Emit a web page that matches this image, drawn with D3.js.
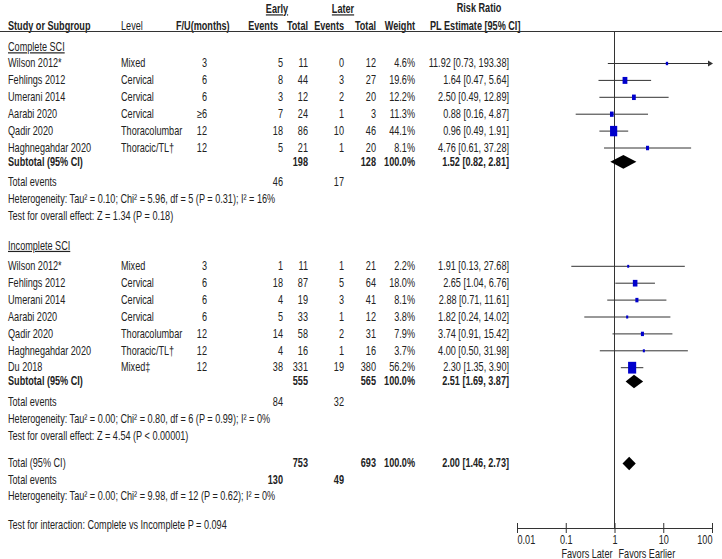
<!DOCTYPE html>
<html>
<head>
<meta charset="utf-8">
<script src="https://cdn.jsdelivr.net/npm/d3@7"></script>
<style>
  html, body { margin: 0; padding: 0; background: #fff; }
  svg text { font-family: 'Liberation Sans', Arial, sans-serif; font-size: 12px; fill: #222; }
  .b { font-weight: bold; }
</style>
</head>
<body>
<svg id="chart" width="722" height="559"></svg>
<script>
// ---------------- DATA ----------------
const completeStudies = ["Wilson 2012*", "Fehlings 2012", "Umerani 2014", "Aarabi 2020", "Qadir 2020", "Haghnegahdar 2020"];
const completeLevels = ["Mixed", "Cervical", "Cervical", "Cervical", "Thoracolumbar", "Thoracic/TL†"];
const completeFU = ["3", "6", "6", "≥6", "12", "12"];
const completeEarlyEvents = [5, 8, 3, 7, 18, 5];
const completeEarlyTotal = [11, 44, 12, 24, 86, 21];
const completeLaterEvents = [0, 3, 2, 1, 10, 1];
const completeLaterTotal = [12, 27, 20, 3, 46, 20];
const completeWeight = [4.6, 19.6, 12.2, 11.3, 44.1, 8.1];
const completeRR = [11.92, 1.64, 2.50, 0.88, 0.96, 4.76];
const completeLo = [0.73, 0.47, 0.49, 0.16, 0.49, 0.61];
const completeHi = [193.38, 5.64, 12.89, 4.87, 1.91, 37.28];

const incompleteStudies = ["Wilson 2012*", "Fehlings 2012", "Umerani 2014", "Aarabi 2020", "Qadir 2020", "Haghnegahdar 2020", "Du 2018"];
const incompleteLevels = ["Mixed", "Cervical", "Cervical", "Cervical", "Thoracolumbar", "Thoracic/TL†", "Mixed‡"];
const incompleteFU = ["3", "6", "6", "6", "12", "12", "12"];
const incompleteEarlyEvents = [1, 18, 4, 5, 14, 4, 38];
const incompleteEarlyTotal = [11, 87, 19, 33, 58, 16, 331];
const incompleteLaterEvents = [1, 5, 3, 1, 2, 1, 19];
const incompleteLaterTotal = [21, 64, 41, 12, 31, 16, 380];
const incompleteWeight = [2.2, 18.0, 8.1, 3.8, 7.9, 3.7, 56.2];
const incompleteRR = [1.91, 2.65, 2.88, 1.82, 3.74, 4.00, 2.30];
const incompleteLo = [0.13, 1.04, 0.71, 0.24, 0.91, 0.50, 1.35];
const incompleteHi = [27.68, 6.76, 11.61, 14.02, 15.42, 31.98, 3.90];

// subtotals: [earlyTotal, laterTotal, RR, lo, hi, earlyEvents, laterEvents]
const completeSubtotal = [198, 128, 1.52, 0.82, 2.81, 46, 17];
const incompleteSubtotal = [555, 565, 2.51, 1.69, 3.87, 84, 32];
const overallTotal = [753, 693, 2.00, 1.46, 2.73, 130, 49];

const completeHetero = "Heterogeneity: Tau² = 0.10; Chi² = 5.96, df = 5 (P = 0.31); I² = 16%";
const completeTest = "Test for overall effect: Z = 1.34 (P = 0.18)";
const incompleteHetero = "Heterogeneity: Tau² = 0.00; Chi² = 0.80, df = 6 (P = 0.99); I² = 0%";
const incompleteTest = "Test for overall effect: Z = 4.54 (P < 0.00001)";
const overallHetero = "Heterogeneity: Tau² = 0.00; Chi² = 9.98, df = 12 (P = 0.62); I² = 0%";
const interactionTest = "Test for interaction: Complete vs Incomplete P = 0.094";

const axisTicks = [0.01, 0.1, 1, 10, 100];
const axisTickLabels = ["0.01", "0.1", "1", "10", "100"];
const favorsLeft = "Favors Later";
const favorsRight = "Favors Earlier";

// ---------------- LAYOUT ----------------
const svg = d3.select("#chart");
const x = d3.scaleLog().domain([0.01, 100]).range([517, 712]);
const y = d3.scaleLinear().domain([0, 1]).range([63, 79.9]); // row slot -> pixel
const SX = 0.76; // horizontal condensation (narrow face)

const col = { study: 8, level: 121, fu: 207, eEv: 283, eTot: 308, lEv: 344, lTot: 376, wt: 415, est: 509 };
const axisY = 528;

function txt(xp, yp, s, opts = {}) {
  const t = svg.append("text").attr("transform", `translate(${xp},${yp}) scale(${SX},1)`)
    .attr("dy", "0.35em").text(s);
  if (opts.anchor) t.attr("text-anchor", opts.anchor);
  if (opts.bold) t.classed("b", true);
  if (opts.underline) t.style("text-decoration", "underline");
  return t;
}
const fmt2 = d3.format(".2f");
const est = (r, l, h) => `${fmt2(r)} [${fmt2(l)}, ${fmt2(h)}]`;
const pct = w => d3.format(".1f")(w) + "%";

// Header
txt(277, 9, "Early", { anchor: "middle", bold: true, underline: true });
txt(343, 9, "Later", { anchor: "middle", bold: true, underline: true });
txt(479, 8, "Risk Ratio", { anchor: "middle", bold: true });
txt(col.study, 26, "Study or Subgroup", { bold: true });
txt(col.level, 26, "Level");
txt(176, 26, "F/U(months)", { bold: true });
txt(278, 26, "Events", { anchor: "end", bold: true });
txt(col.eTot, 26, "Total", { anchor: "end", bold: true });
txt(col.lEv, 26, "Events", { anchor: "end", bold: true });
txt(col.lTot, 26, "Total", { anchor: "end", bold: true });
txt(col.wt, 26, "Weight", { anchor: "end", bold: true });
txt(430, 26, "PL Estimate [95% CI]", { bold: true });
svg.append("line").attr("x1", 0).attr("x2", 722).attr("y1", 31.5).attr("y2", 31.5)
  .attr("stroke", "#333").attr("stroke-width", 1);

// Null line
svg.append("line").attr("x1", x(1)).attr("x2", x(1)).attr("y1", 31.5).attr("y2", axisY)
  .attr("stroke", "#333").attr("stroke-width", 1);

function diamond(r, l, h, yy) {
  const hh = 6.8;
  svg.append("path")
    .attr("d", `M${x(l)},${yy} L${x(r)},${yy - hh} L${x(h)},${yy} L${x(r)},${yy + hh} Z`)
    .attr("fill", "#000");
}

function drawGroup(g) {
  txt(col.study, y(g.titleSlot), g.title, { underline: true });
  g.studies.forEach((s, i) => {
    const yy = y(g.firstSlot + i);
    txt(col.study, yy, s);
    txt(col.level, yy, g.levels[i]);
    txt(col.fu, yy, g.fu[i], { anchor: "end" });
    txt(col.eEv, yy, g.eEv[i], { anchor: "end" });
    txt(col.eTot, yy, g.eTot[i], { anchor: "end" });
    txt(col.lEv, yy, g.lEv[i], { anchor: "end" });
    txt(col.lTot, yy, g.lTot[i], { anchor: "end" });
    txt(col.wt, yy, pct(g.wt[i]), { anchor: "end" });
    txt(col.est, yy, est(g.rr[i], g.lo[i], g.hi[i]), { anchor: "end" });
    // CI line
    const hiC = Math.min(g.hi[i], 100);
    svg.append("line").attr("x1", x(Math.max(g.lo[i], 0.01))).attr("x2", x(hiC))
      .attr("y1", yy + 0.5).attr("y2", yy + 0.5).attr("stroke", "#333").attr("stroke-width", 1);
    if (g.hi[i] > 100) {
      const ax = x(100);
      svg.append("path").attr("d", `M${ax - 4},${yy - 2.5} L${ax + 1},${yy + 0.5} L${ax - 4},${yy + 3.5} Z`)
        .attr("fill", "#333");
    }
    // square sized by weight
    const w = Math.max(2, 1.08 * Math.sqrt(g.wt[i]));
    const h = w * 1.45;
    svg.append("rect").attr("x", x(g.rr[i]) - w / 2).attr("y", yy + 0.5 - h / 2)
      .attr("width", w).attr("height", h).attr("fill", "#0000cc");
  });
  const st = g.subtotal;
  const ys = y(g.subSlot);
  txt(col.study, ys, "Subtotal (95% CI)", { bold: true });
  txt(col.eTot, ys, st[0], { anchor: "end", bold: true });
  txt(col.lTot, ys, st[1], { anchor: "end", bold: true });
  txt(col.wt, ys, "100.0%", { anchor: "end", bold: true });
  txt(col.est, ys, est(st[2], st[3], st[4]), { anchor: "end", bold: true });
  diamond(st[2], st[3], st[4], ys + 0.5);
  const ye = y(g.evSlot);
  txt(col.study, ye, "Total events");
  txt(col.eEv, ye, st[5], { anchor: "end" });
  txt(col.lEv, ye, st[6], { anchor: "end" });
  txt(col.study, y(g.evSlot + 1), g.hetero);
  txt(col.study, y(g.evSlot + 2), g.test);
}

drawGroup({
  title: "Complete SCI", titleSlot: -0.95, firstSlot: 0, subSlot: 5.82, evSlot: 7.04,
  studies: completeStudies, levels: completeLevels, fu: completeFU,
  eEv: completeEarlyEvents, eTot: completeEarlyTotal, lEv: completeLaterEvents, lTot: completeLaterTotal,
  wt: completeWeight, rr: completeRR, lo: completeLo, hi: completeHi,
  subtotal: completeSubtotal, hetero: completeHetero, test: completeTest
});
drawGroup({
  title: "Incomplete SCI", titleSlot: 10.8, firstSlot: 12, subSlot: 18.82, evSlot: 20.04,
  studies: incompleteStudies, levels: incompleteLevels, fu: incompleteFU,
  eEv: incompleteEarlyEvents, eTot: incompleteEarlyTotal, lEv: incompleteLaterEvents, lTot: incompleteLaterTotal,
  wt: incompleteWeight, rr: incompleteRR, lo: incompleteLo, hi: incompleteHi,
  subtotal: incompleteSubtotal, hetero: incompleteHetero, test: incompleteTest
});

// Overall
const yt = y(23.67);
txt(col.study, yt, "Total (95% CI)");
txt(col.eTot, yt, overallTotal[0], { anchor: "end", bold: true });
txt(col.lTot, yt, overallTotal[1], { anchor: "end", bold: true });
txt(col.wt, yt, "100.0%", { anchor: "end", bold: true });
txt(col.est, yt, est(overallTotal[2], overallTotal[3], overallTotal[4]), { anchor: "end", bold: true });
diamond(overallTotal[2], overallTotal[3], overallTotal[4], yt + 0.5);
const yte = y(24.67);
txt(col.study, yte, "Total events");
txt(col.eEv, yte, overallTotal[5], { anchor: "end", bold: true });
txt(col.lEv, yte, overallTotal[6], { anchor: "end", bold: true });
txt(col.study, y(25.6), overallHetero);
txt(col.study, y(27.3), interactionTest);

// Axis
const axis = d3.axisBottom(x).tickValues(axisTicks)
  .tickFormat((d, i) => axisTickLabels[i]).tickSizeOuter(0).tickSizeInner(5).tickPadding(5);
const ag = svg.append("g").attr("transform", `translate(0,${axisY})`).call(axis);
ag.attr("font-family", null).attr("font-size", null);
ag.select(".domain").attr("stroke", "#333");
ag.selectAll(".tick line").attr("y1", -5).attr("y2", 5).attr("stroke", "#333");
ag.selectAll(".tick text").attr("fill", null).attr("y", null).attr("dy", "0.35em")
  .attr("transform", `translate(0,12) scale(${SX},1)`)
  .attr("text-anchor", (d, i) => i === 0 ? "start" : (i === axisTicks.length - 1 ? "end" : "middle"));
txt(x(1) - 2, 554, favorsLeft, { anchor: "end" });
txt(x(1) + 4, 554, favorsRight);
</script>
</body>
</html>
